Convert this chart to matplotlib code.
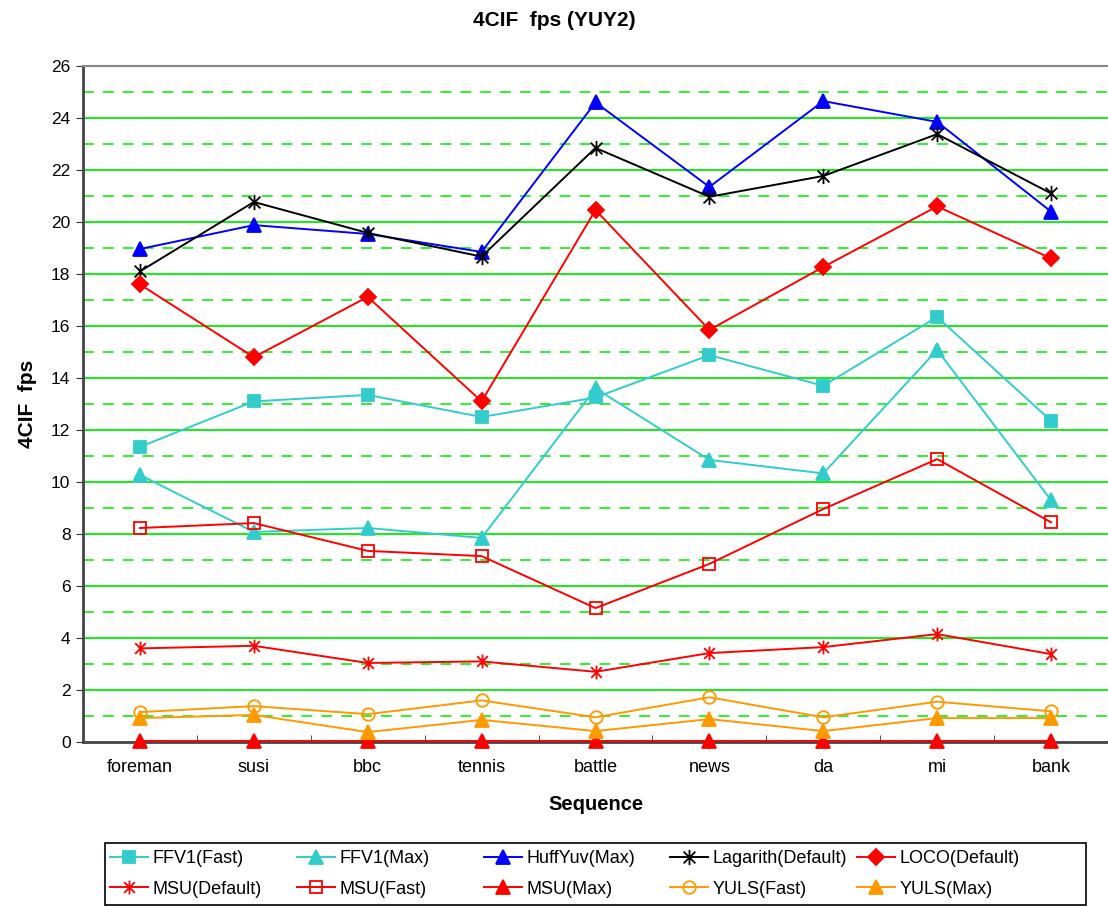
import numpy as np
import matplotlib
matplotlib.use('Agg')
import matplotlib.pyplot as plt
from matplotlib.path import Path
from matplotlib.patches import Rectangle

plt.rcParams['font.family'] = ['Liberation Sans', 'DejaVu Sans']

seqs = ['foreman', 'susi', 'bbc', 'tennis', 'battle', 'news', 'da', 'mi', 'bank']

ffv1_fast = [11.35, 13.1, 13.35, 12.5, 13.25, 14.88, 13.7, 16.35, 12.35]
ffv1_max = [10.27, 8.08, 8.23, 7.85, 13.6, 10.85, 10.33, 15.08, 9.3]
huffyuv_max = [18.96, 19.88, 19.54, 18.85, 24.6, 21.35, 24.65, 23.85, 20.4]
lagarith_def = [18.1, 20.77, 19.58, 18.67, 22.85, 20.97, 21.77, 23.38, 21.1]
loco_def = [17.6, 14.8, 17.12, 13.1, 20.46, 15.85, 18.27, 20.6, 18.6]
msu_def = [3.6, 3.7, 3.04, 3.1, 2.7, 3.42, 3.65, 4.15, 3.38]
msu_fast = [8.23, 8.42, 7.35, 7.15, 5.15, 6.85, 8.96, 10.88, 8.45]
msu_max = [0.05, 0.05, 0.05, 0.05, 0.05, 0.05, 0.05, 0.05, 0.05]
yuls_fast = [1.15, 1.38, 1.07, 1.6, 0.95, 1.72, 0.95, 1.55, 1.18]
yuls_max = [0.92, 1.04, 0.38, 0.85, 0.42, 0.88, 0.42, 0.92, 0.92]

# asterisk marker like excel: X plus vertical bar
star = Path([(-1, -1), (1, 1), (-1, 1), (1, -1), (0, -1.3), (0, 1.3)],
            [Path.MOVETO, Path.LINETO, Path.MOVETO, Path.LINETO, Path.MOVETO, Path.LINETO])

cyan = '#33cccc'
blue = '#0000ff'
red = '#ff0000'
orange = '#ff9900'

series = [
    ('FFV1(Fast)', ffv1_fast, cyan, 's', 9, cyan),
    ('FFV1(Max)', ffv1_max, cyan, '^', 10, cyan),
    ('HuffYuv(Max)', huffyuv_max, blue, '^', 10, blue),
    ('Lagarith(Default)', lagarith_def, 'black', star, 11, 'none'),
    ('LOCO(Default)', loco_def, red, 'D', 8, red),
    ('MSU(Default)', msu_def, red, star, 10, 'none'),
    ('MSU(Fast)', msu_fast, red, 's', 9, 'none'),
    ('MSU(Max)', msu_max, red, '^', 10, red),
    ('YULS(Fast)', yuls_fast, orange, 'o', 9, 'none'),
    ('YULS(Max)', yuls_max, orange, '^', 10, orange),
]

W, H = 1108, 906
fig = plt.figure(figsize=(W/100, H/100), dpi=100)
ax = fig.add_axes([83/W, 1-742/H, 1-83/W, (742-66)/H])

x = np.arange(len(seqs))

# grid: solid at even, dashed at odd
for v in range(2, 26, 2):
    ax.axhline(v, color='#00ee00', lw=1.3, zorder=1)
for v in range(1, 26, 2):
    ax.axhline(v, color='#22ee22', lw=1.3, ls=(0, (6, 5)), zorder=1)

handles = []
for name, vals, col, mk, ms, mfc in series:
    h, = ax.plot(x, vals, color=col, lw=1.4, marker=mk, markersize=ms,
                 markerfacecolor=mfc, markeredgecolor=col, markeredgewidth=1.3,
                 label=name, zorder=3, clip_on=False)
    handles.append(h)

ax.set_xlim(-0.5, 8.5)
ax.set_ylim(0, 26)
ax.set_yticks(range(0, 27, 2))
ax.set_xticks(x)
ax.set_xticklabels(seqs, fontsize=13)
ax.set_xticks(np.arange(0.5, 8.5, 1), minor=True)
ax.tick_params(axis='x', which='major', length=0, pad=12)
ax.tick_params(axis='x', which='minor', length=5, direction='in', color='#333333')
ax.tick_params(axis='y', labelsize=12.5, length=5, direction='out', color='#333333', pad=4)

ax.spines['left'].set_color('#444444')
ax.spines['left'].set_linewidth(2)
ax.spines['bottom'].set_color('#444444')
ax.spines['bottom'].set_linewidth(2)
ax.spines['top'].set_color('#888888')
ax.spines['top'].set_linewidth(1.5)
ax.spines['right'].set_visible(False)

ax.set_xlabel('Sequence', fontsize=14.5, fontweight='bold', labelpad=14)
ax.set_ylabel('4CIF  fps', fontsize=15, fontweight='bold', labelpad=10)
fig.text(0.5, 1-20/H, '4CIF  fps (YUY2)', fontsize=15, fontweight='bold',
         ha='center', va='center')

# legend: 5 equal-width columns, filled row by row
fig.patches.append(Rectangle((105/W, 1-905/H), 981/W, 62/H, transform=fig.transFigure,
                             fill=False, edgecolor='black', lw=1.2))
col_x = [110, 297, 484, 670, 857]
for i, cx in enumerate(col_x):
    hs = [handles[i], handles[i+5]]
    leg = fig.legend(hs, [h.get_label() for h in hs], loc='upper left',
                     bbox_to_anchor=(cx/W, 1-850/H), fontsize=13, frameon=False,
                     borderaxespad=0, borderpad=0, handlelength=2.1,
                     handletextpad=0.25, labelspacing=0.75)

fig.savefig('out.png', dpi=100)
